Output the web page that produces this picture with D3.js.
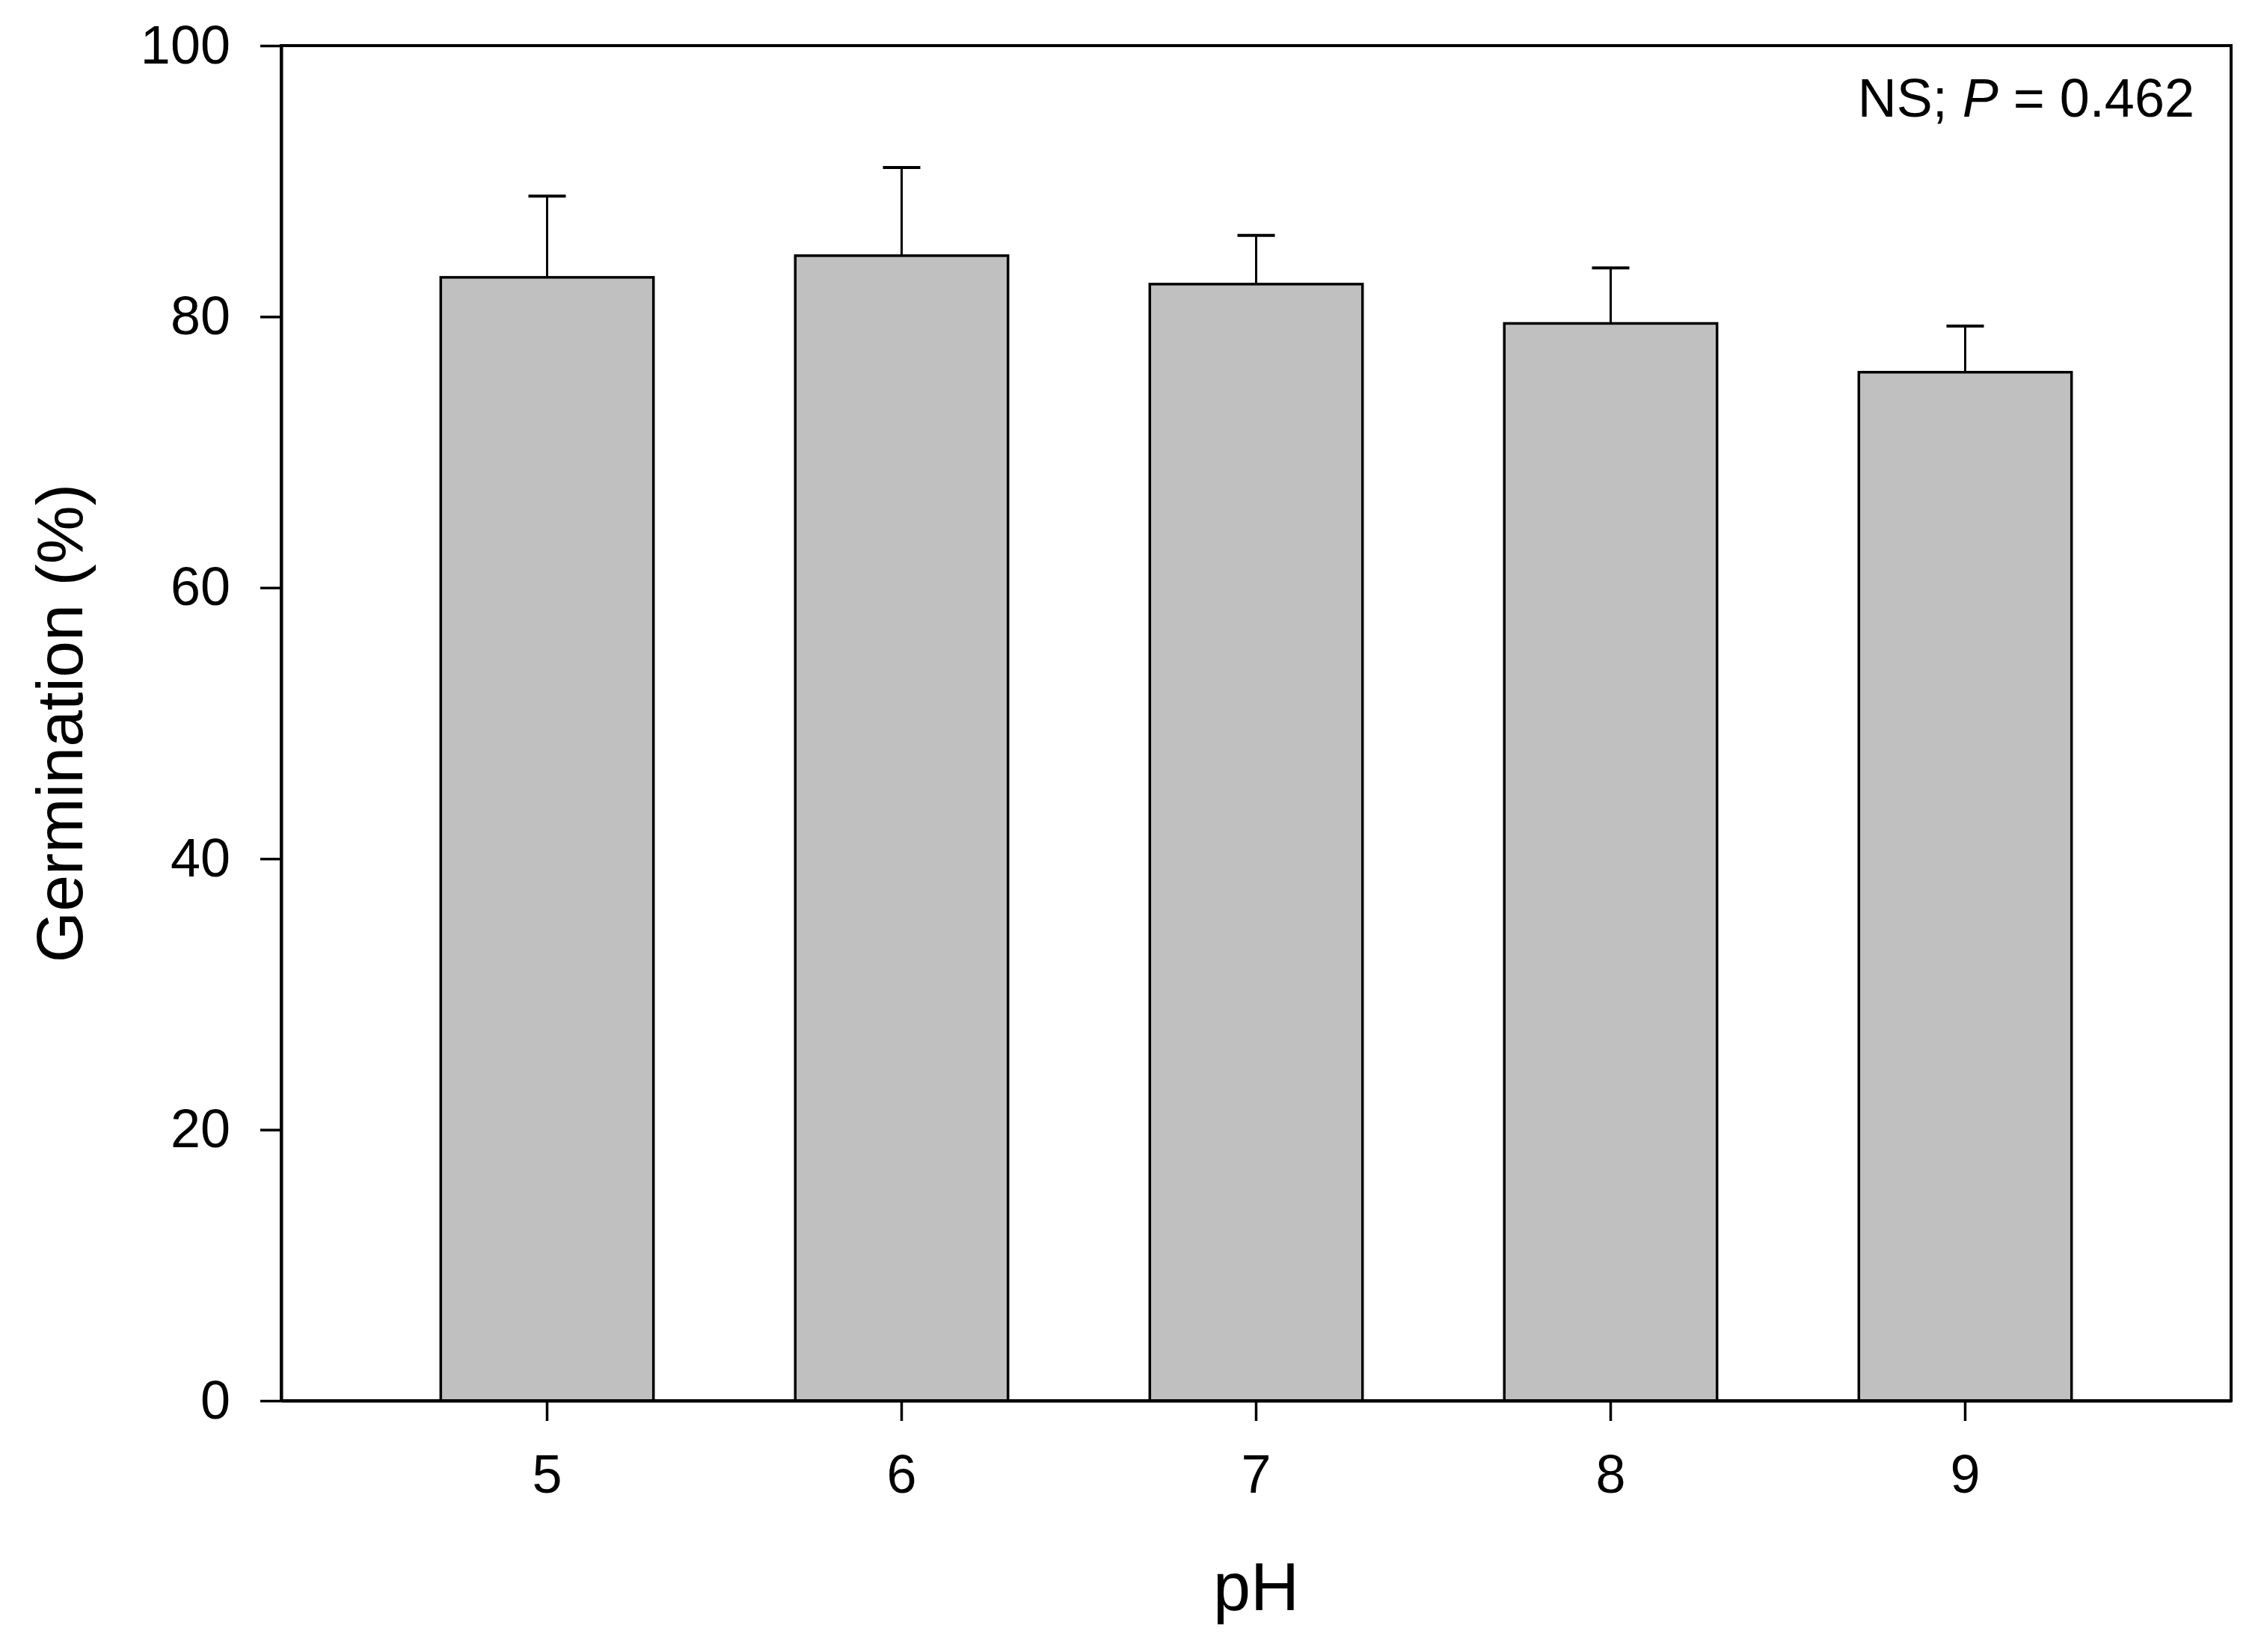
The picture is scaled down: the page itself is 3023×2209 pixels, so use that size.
<!DOCTYPE html>
<html>
<head>
<meta charset="utf-8">
<script src="https://cdn.jsdelivr.net/npm/d3@7"></script>
<style>
  html, body { margin: 0; padding: 0; background: #fff; }
  svg { display: block; }
  text { font-family: "Liberation Sans", Arial, sans-serif; fill: #000; }
</style>
</head>
<body>
<script>
// ---- Data ----
const categories = ["5", "6", "7", "8", "9"];
const germination = [82.9, 84.5, 82.4, 79.5, 75.9];
const errorSE = [6.0, 6.5, 3.6, 4.1, 3.4];
const yTicks = [0, 20, 40, 60, 80, 100];
const xTitle = "pH";
const yTitle = "Germination (%)";

// ---- Layout ----
const W = 3023, H = 2209;
const plot = { left: 376, right: 2983, top: 61, bottom: 1873 };

const svg = d3.select("body").append("svg")
  .attr("width", W).attr("height", H);

const x = d3.scaleBand()
  .domain(categories)
  .range([plot.left, plot.right])
  .paddingInner(0.40)
  .paddingOuter(0.45);

const y = d3.scaleLinear()
  .domain([0, 100])
  .range([plot.bottom, plot.top]);

const data = categories.map((c, i) => ({ c, v: germination[i], e: errorSE[i] }));

// Error bars (upper only)
const eb = svg.append("g");
eb.selectAll("line.v").data(data).join("line")
  .attr("x1", d => x(d.c) + x.bandwidth() / 2)
  .attr("x2", d => x(d.c) + x.bandwidth() / 2)
  .attr("y1", d => y(d.v))
  .attr("y2", d => y(d.v + d.e))
  .attr("stroke", "#000").attr("stroke-width", 3);
eb.selectAll("line.cap").data(data).join("line")
  .attr("x1", d => x(d.c) + x.bandwidth() / 2 - 25)
  .attr("x2", d => x(d.c) + x.bandwidth() / 2 + 25)
  .attr("y1", d => y(d.v + d.e))
  .attr("y2", d => y(d.v + d.e))
  .attr("stroke", "#000").attr("stroke-width", 4);

// Bars
svg.append("g").selectAll("rect").data(data).join("rect")
  .attr("x", d => x(d.c))
  .attr("y", d => y(d.v))
  .attr("width", x.bandwidth())
  .attr("height", d => y(0) - y(d.v))
  .attr("fill", "#c0c0c0")
  .attr("stroke", "#000")
  .attr("stroke-width", 3.5);

// Frame
svg.append("rect")
  .attr("x", plot.left).attr("y", plot.top)
  .attr("width", plot.right - plot.left)
  .attr("height", plot.bottom - plot.top)
  .attr("fill", "none").attr("stroke", "#000").attr("stroke-width", 4);

// Y axis
const yAxis = d3.axisLeft(y).tickValues(yTicks).tickSize(28).tickSizeOuter(0)
  .tickPadding(40).tickFormat(d3.format("d"));
const gy = svg.append("g").attr("transform", `translate(${plot.left},0)`).call(yAxis);
gy.select(".domain").attr("stroke-width", 4);
gy.selectAll(".tick line").attr("stroke-width", 3.5);
gy.selectAll(".tick text").attr("font-size", 72)
  .attr("font-family", '"Liberation Sans", Arial, sans-serif');

// X axis
const xAxis = d3.axisBottom(x).tickSize(27).tickSizeOuter(0).tickPadding(45);
const gx = svg.append("g").attr("transform", `translate(0,${plot.bottom})`).call(xAxis);
gx.select(".domain").attr("stroke-width", 4);
gx.selectAll(".tick line").attr("stroke-width", 3.5);
gx.selectAll(".tick text").attr("font-size", 72)
  .attr("font-family", '"Liberation Sans", Arial, sans-serif');

// Axis titles
svg.append("text")
  .attr("x", (plot.left + plot.right) / 2)
  .attr("y", 2153)
  .attr("text-anchor", "middle")
  .attr("font-size", 90)
  .text(xTitle);

svg.append("text")
  .attr("transform", `translate(110,${(plot.top + plot.bottom) / 2}) rotate(-90)`)
  .attr("text-anchor", "middle")
  .attr("font-size", 88)
  .text(yTitle);

// Annotation
const ann = svg.append("text")
  .attr("x", 2934).attr("y", 156)
  .attr("text-anchor", "end")
  .attr("font-size", 72);
ann.append("tspan").text("NS; ");
ann.append("tspan").attr("font-style", "italic").text("P");
ann.append("tspan").text(" = 0.462");
</script>
</body>
</html>
